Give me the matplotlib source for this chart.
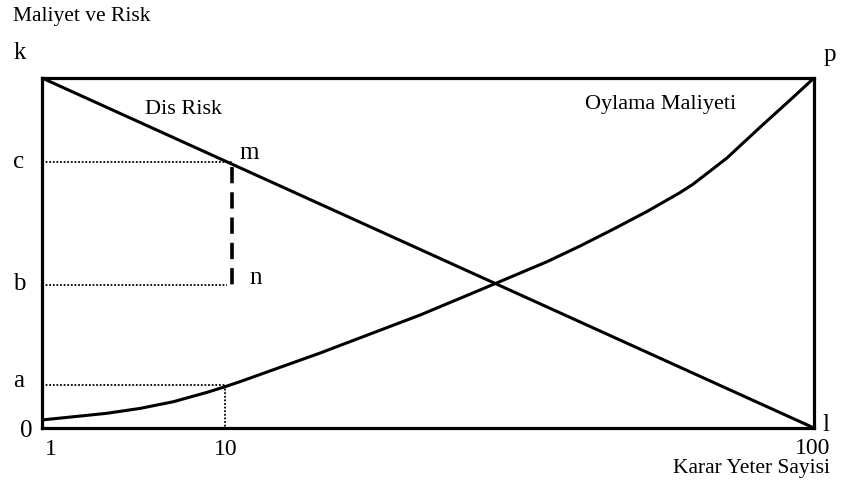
import matplotlib
matplotlib.use("Agg")
import matplotlib.pyplot as plt

# schematic units: x 0..100 across the box, y 0..100 up the box
cost_x = [0, 4.0, 8.4, 12.7, 17.0, 21.4, 23.7, 25.6, 36.0, 49.0, 56.7, 61.0, 65.4,
          69.7, 74.0, 78.4, 82.6, 84.3, 88.7, 93.0, 97.3, 100]
cost_y = [2.3, 3.2, 4.2, 5.6, 7.5, 10.2, 11.8, 13.2, 21.4, 32.3, 39.4, 43.4, 47.5,
          52.0, 56.8, 61.9, 67.2, 69.6, 77.1, 85.9, 94.5, 100]
risk_x = [0, 100]
risk_y = [100, 0]

level_c = 76.0
level_b = 41.0
level_a = 12.2
m_x = 24.6
a_x = 23.7

tick_pos = [0, a_x, 100]
tick_labels = ["1", "10", "100"]

plt.rcParams["font.family"] = ["Liberation Serif", "DejaVu Serif"]

fig = plt.figure(figsize=(8.42, 4.97), dpi=100)
ax = fig.add_axes([42 / 842, 69 / 497, 772 / 842, 350 / 497])
ax.set_xlim(0, 100)
ax.set_ylim(0, 100)
ax.set_xticks([])
ax.set_yticks([])
for s in ax.spines.values():
    s.set_linewidth(2.3)
    s.set_color("black")

ax.plot(risk_x, risk_y, color="black", lw=2.2, clip_on=False, solid_capstyle="butt")
ax.plot(cost_x, cost_y, color="black", lw=2.2, clip_on=False,
        solid_joinstyle="round", solid_capstyle="butt")

# guide lines
dot = (0, (1, 1))
ax.plot([0, m_x], [level_c, level_c], color="black", lw=1.3, ls=dot)
ax.plot([0, m_x - 0.6], [level_b, level_b], color="black", lw=1.3, ls=dot)
ax.plot([m_x, m_x], [level_c - 1.5, level_b], color="black", lw=2.6, ls=(0, (4.5, 2.5)))
ax.plot([0, a_x], [level_a, level_a], color="black", lw=1.3, ls=dot)
ax.plot([a_x, a_x], [level_a, 0], color="black", lw=1.3, ls=dot)

big = 18
kw = dict(clip_on=False, color="black")
ax.text(-3.76, 117.7, "Maliyet ve Risk", fontsize=15.5, ha="left", va="center", **kw)
ax.text(-2.85, 107.1, "k", fontsize=big, ha="center", va="center", **kw)
ax.text(102.1, 106.6, "p", fontsize=big, ha="center", va="center", **kw)
ax.text(13.3, 91.0, "Dis Risk", fontsize=16, ha="left", va="center", **kw)
ax.text(70.3, 92.3, "Oylama Maliyeti", fontsize=16, ha="left", va="center", **kw)
ax.text(26.8, 78.6, "m", fontsize=big, ha="center", va="center", **kw)
ax.text(27.7, 42.9, "n", fontsize=big, ha="center", va="center", **kw)
ax.text(-3.0, level_c, "c", fontsize=big, ha="center", va="center", **kw)
ax.text(-3.0, level_b, "b", fontsize=big, ha="center", va="center", **kw)
ax.text(-3.0, 13.4, "a", fontsize=big, ha="center", va="center", **kw)
ax.text(-2.1, -0.9, "0", fontsize=big, ha="center", va="center", **kw)
ax.text(101.6, 0.9, "l", fontsize=big, ha="center", va="center", **kw)

for p, lab in zip(tick_pos, tick_labels):
    if lab == "100":
        ax.text(102.1, -5.8, lab, fontsize=17, ha="right", va="center", **kw)
    else:
        ax.text(p + (1.2 if lab == "1" else 0.1), -6.2, lab, fontsize=17, ha="center", va="center", **kw)

ax.text(102.1, -11.7, "Karar Yeter Sayisi", fontsize=15.5, ha="right", va="center", **kw)

fig.savefig("out.png", dpi=100)
